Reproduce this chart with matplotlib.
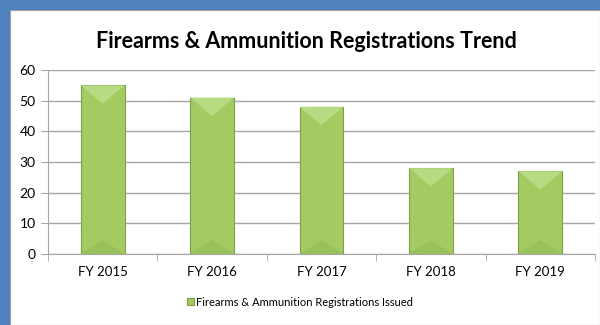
import matplotlib.pyplot as plt
from matplotlib.patches import Rectangle, Polygon

# registrations issued per fiscal year
years = ['FY 2015', 'FY 2016', 'FY 2017', 'FY 2018', 'FY 2019']
issued = [55, 51, 48, 28, 27]
series_name = 'Firearms & Ammunition Registrations Issued'

plt.rcParams['font.family'] = ['Lato', 'DejaVu Sans']

fig = plt.figure(figsize=(6, 3.25), dpi=100, facecolor='#4F81BD')

# white chart panel inside the blue frame
fig.patches.append(Rectangle((10 / 600, 0), 590 / 600, 315 / 325,
                             transform=fig.transFigure, facecolor='white',
                             edgecolor='#A0A0A0', linewidth=0.8, zorder=-5))

ax = fig.add_axes([48 / 600, (325 - 254) / 325, 547 / 600, 184 / 325])
ax.set_zorder(2)
ax.set_facecolor('none')

bars = ax.bar(range(len(years)), issued, width=0.4, color='#A3CB62',
              edgecolor='#7FA046', linewidth=0.8, zorder=3,
              label=series_name)

# bevelled look: light wedge on top, darker wedge at the base
for b in bars:
    x0, w, h = b.get_x(), b.get_width(), b.get_height()
    top = Polygon([(x0, h), (x0 + w, h), (x0 + w / 2, h - 6)],
                  closed=True, facecolor='#B6DB82', edgecolor='none', zorder=4)
    base = Polygon([(x0, 0), (x0 + w, 0), (x0 + w / 2, 4.5)],
                   closed=True, facecolor='#99C15B', edgecolor='none', zorder=4)
    ax.add_patch(top)
    ax.add_patch(base)

ax.set_ylim(0, 60)
ax.set_xlim(-0.5, len(years) - 0.5)
ax.set_yticks(range(0, 61, 10))
ax.set_xticks(range(len(years)))
ax.set_xticklabels(years)
ax.set_xticks([i - 0.5 for i in range(len(years) + 1)], minor=True)
ax.grid(axis='y', color='#A6A6A6', linewidth=1, zorder=0)
ax.tick_params(axis='x', which='major', length=0, pad=9, labelsize=9.5)
ax.tick_params(axis='x', which='minor', length=5, color='#A6A6A6')
ax.tick_params(axis='y', length=5, color='#A6A6A6', labelsize=10, pad=4)
for s in ['top', 'right']:
    ax.spines[s].set_visible(False)
ax.spines['left'].set_color('#A6A6A6')
ax.spines['bottom'].set_color('#A6A6A6')

fig.text(0.51, 1 - 42 / 325, 'Firearms & Ammunition Registrations Trend',
         ha='center', va='center', fontsize=15.5, fontweight='bold')

fig.legend(handles=[bars], labels=[series_name], loc='center',
           bbox_to_anchor=(0.5, 1 - 302 / 325), frameon=False, fontsize=8,
           handlelength=0.6, handleheight=0.6, handletextpad=0.2)

fig.savefig('out.png', dpi=100, facecolor=fig.get_facecolor())
